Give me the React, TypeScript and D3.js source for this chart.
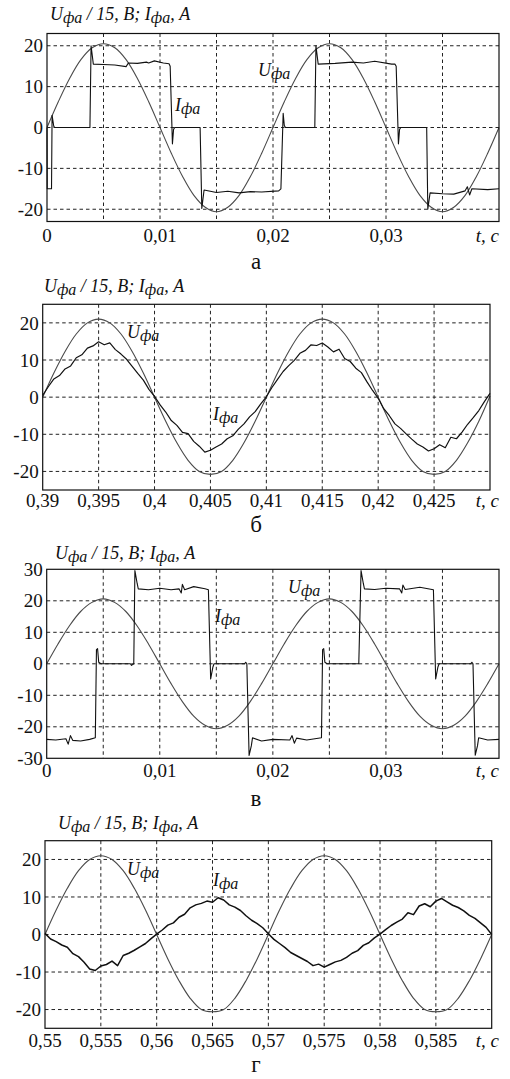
import React from 'react';
import * as d3 from 'd3';

// --- data ---
// phase voltage / 15, sampled every 1 ms
const uA = [0, 6.3, 12.0, 16.6, 19.5, 20.5, 19.5, 16.6, 12.0, 6.3, 0, -6.3, -12.0, -16.6, -19.5, -20.6, -19.5, -16.6, -12.0, -6.3, 0, 6.3, 12.0, 16.6, 19.5, 20.5, 19.5, 16.6, 12.0, 6.3, 0, -6.3, -12.0, -16.6, -19.5, -20.6, -19.5, -16.6, -12.0, -6.3, 0];
const uB = [0, 6.5, 12.3, 17.0, 20.0, 21.0, 20.0, 17.0, 12.3, 6.5, 0, -6.5, -12.3, -17.0, -20.0, -20.8, -20.0, -17.0, -12.3, -6.5, 0, 6.5, 12.3, 17.0, 20.0, 21.0, 20.0, 17.0, 12.3, 6.5, 0, -6.5, -12.3, -17.0, -20.0, -20.8, -20.0, -17.0, -12.3, -6.5, 0.3];
const uV = [0, 6.3, 12.0, 16.6, 19.5, 20.6, 19.5, 16.6, 12.0, 6.3, 0, -6.3, -12.0, -16.6, -19.5, -20.6, -19.5, -16.6, -12.0, -6.3, 0, 6.3, 12.0, 16.6, 19.5, 20.6, 19.5, 16.6, 12.0, 6.3, 0, -6.3, -12.0, -16.6, -19.5, -20.6, -19.5, -16.6, -12.0, -6.3, 0];
const uG = [0, 6.5, 12.3, 17.0, 20.0, 21.0, 20.0, 17.0, 12.3, 6.5, 0, -6.5, -12.3, -17.0, -20.0, -20.6, -20.0, -17.0, -12.3, -6.5, 0, 6.5, 12.3, 17.0, 20.0, 21.0, 20.0, 17.0, 12.3, 6.5, 0, -6.5, -12.3, -17.0, -20.0, -20.6, -20.0, -17.0, -12.3, -6.5, 0];

// phase current, panel а: [t, I]
const iA: [number, number][] = [
  [0, 0], [0.00002, -15], [0.0004, -15], [0.00045, 3], [0.0006, 0.3], [0.0007, 0], [0.0038, 0], [0.0039, 20], [0.0041, 15.5],
  [0.005, 15.4], [0.006, 15.3], [0.007, 14.9], [0.0072, 15.8], [0.008, 15.7], [0.0088, 16.0], [0.009, 15.8], [0.0095, 16.3],
  [0.0103, 15.8], [0.0108, 15.6], [0.0109, 15], [0.0111, -4], [0.0112, -0.5], [0.0113, 0], [0.01355, 0], [0.0137, -19.8],
  [0.0139, -15.3], [0.015, -15.9], [0.016, -15.6], [0.017, -16.0], [0.018, -15.7], [0.019, -15.8], [0.0205, -15.5],
  [0.0207, -15], [0.0209, 3.5], [0.021, 0.5], [0.0211, 0], [0.0237, 0], [0.0238, 20], [0.024, 15.5], [0.0255, 15.7],
  [0.027, 16.0], [0.028, 15.8], [0.029, 16.2], [0.0305, 15.5], [0.0308, 15.5], [0.0309, 15], [0.0311, -4], [0.0312, -0.5],
  [0.0313, 0], [0.0336, 0], [0.0337, -20], [0.0339, -16], [0.035, -16.2], [0.036, -16.3], [0.037, -15.5], [0.0372, -14.5],
  [0.0374, -16.5], [0.0376, -15], [0.039, -15.2], [0.04, -15]
];

// phase current, panel б, every 0.5 ms from 0.39 s
const iB = [0.5, 2.8, 4.9, 5.8, 7.6, 8.4, 10.6, 11.4, 13.2, 13.8, 14.9, 14.1, 14.6, 12.8, 11.6, 10.2, 8.3, 6.4, 4.6, 2.1,
  0.2, -2.1, -4.0, -6.3, -7.6, -9.5, -9.8, -11.9, -13.2, -14.8, -14.3, -13.4, -12.6, -11.2, -10.4, -8.6, -7.2, -5.3, -3.9, -1.8,
  0.1, 2.6, 4.8, 6.9, 8.5, 9.9, 11.8, 12.6, 14.1, 13.9, 14.6, 13.5, 12.2, 12.9, 10.4, 9.6, 7.8, 6.6, 4.1, 1.8,
  -0.3, -3.1, -5.0, -7.2, -8.4, -9.9, -11.3, -12.6, -13.4, -14.5, -13.9, -12.8, -13.6, -10.8, -11.2, -9.4, -7.3, -5.5, -3.6, -1.2, 1.0];

// phase current, panel в: [t, I]
const iV: [number, number][] = [
  [0, -24], [0.0008, -24.2], [0.0017, -23.8], [0.0019, -25.5], [0.0021, -22.8], [0.0023, -24.3], [0.003, -24.5], [0.0038, -24],
  [0.0043, -23.5], [0.0044, 4.5], [0.0045, 4.8], [0.0046, 0.5], [0.0048, 0], [0.0074, 0], [0.0075, -0.5], [0.0077, 0],
  [0.0078, 29.6], [0.008, 25.5], [0.0081, 23.8], [0.009, 23.5], [0.01, 24], [0.011, 23.5], [0.0117, 23.8], [0.0119, 22.5],
  [0.012, 25.2], [0.0122, 23.5], [0.013, 24.5], [0.014, 23.8], [0.0143, 23.5], [0.0145, -4.8], [0.0147, -1], [0.0148, 0],
  [0.0175, 0], [0.0176, 0.5], [0.0177, 0], [0.0179, -29.1], [0.0181, -26], [0.0182, -23.5], [0.019, -24.5], [0.02, -24],
  [0.0215, -24.2], [0.0217, -22.8], [0.0219, -25.2], [0.0221, -23.6], [0.023, -24.2], [0.0243, -23.5], [0.0244, 4.5],
  [0.0245, 4.8], [0.0246, 0.5], [0.0248, 0], [0.0275, 0], [0.0276, 0], [0.0278, 29.6], [0.028, 25.5], [0.0281, 23.8],
  [0.029, 23.6], [0.03, 24], [0.0312, 23.8], [0.0314, 22.5], [0.0315, 25], [0.0317, 23.6], [0.033, 24.3], [0.0342, 23.5],
  [0.0344, -4.8], [0.0346, -1], [0.0347, 0], [0.0375, 0], [0.0376, 0.5], [0.0377, 0], [0.0379, -29], [0.0381, -26],
  [0.0382, -23.5], [0.039, -24.2], [0.04, -24]
];

// phase current, panel г, every 0.5 ms from 0.55 s
const iG = [0.3, -1.2, -1.9, -2.8, -3.4, -5.1, -5.9, -7.4, -9.2, -9.6, -8.4, -8.0, -7.1, -8.3, -5.6, -5.0, -4.2, -3.3, -2.4, -1.1,
  0.1, 1.2, 2.5, 3.1, 4.6, 5.4, 7.1, 7.9, 8.3, 8.9, 8.6, 9.8, 9.2, 7.9, 7.3, 6.4, 5.0, 3.8, 2.9, 1.8,
  0.2, -1.3, -2.4, -3.5, -4.8, -5.6, -6.4, -7.2, -8.3, -7.9, -8.7, -8.0, -7.3, -6.9, -6.1, -5.0, -4.3, -2.9, -2.2, -0.9,
  0.1, 1.3, 2.4, 3.3, 4.1, 5.8, 5.3, 7.6, 8.2, 7.4, 8.9, 9.6, 8.7, 7.8, 7.2, 6.3, 5.1, 4.3, 3.1, 1.9, 0.0];

const xLabelsA = ['0', '0,01', '0,02', '0,03'];
const xLabelsB = ['0,39', '0,395', '0,4', '0,405', '0,41', '0,415', '0,42', '0,425'];
const xLabelsG = ['0,55', '0,555', '0,56', '0,565', '0,57', '0,575', '0,58', '0,585'];
const yTicks25 = [-20, -10, 0, 10, 20];
const yTicks30 = [-30, -20, -10, 0, 10, 20, 30];
const captions = ['а', 'б', 'в', 'г'];

const serif = "'Liberation Serif', 'Times New Roman', serif";

type PanelProps = {
  left: number; right: number; top: number; bottom: number;
  x0: number; yMax: number; yTicks: number[];
  xLabels: string[]; xLabelStep: number; xLabelDy: number;
  u: number[]; cur: [number, number][]; curWidth: number;
  title: [number, number]; uLab: [number, number]; iLab: [number, number];
  caption: string; capY: number;
};

// subscript "фа"
const Phi = () => (
  <tspan fontSize={16} dy={3}>фа</tspan>
);

const Panel = (p: PanelProps) => {
  const x = d3.scaleLinear().domain([p.x0, p.x0 + 0.04]).range([p.left, p.right]);
  const y = d3.scaleLinear().domain([-p.yMax, p.yMax]).range([p.bottom, p.top]);
  const uTimes = d3.range(41).map(i => p.x0 + i * 0.001);
  const uLine = d3.line<number>().x((_, i) => x(uTimes[i])).y(d => y(d)).curve(d3.curveCatmullRom);
  const iLine = d3.line<[number, number]>().x(d => x(d[0])).y(d => y(d[1]));
  const gridX = d3.range(1, 8).map(i => p.x0 + i * 0.005);
  const gridY = p.yTicks.filter(v => Math.abs(v) < p.yMax);
  return (
    <g fontFamily={serif} fill="#111">
      {gridX.map((v, i) => (
        <line key={'gx' + i} x1={x(v)} x2={x(v)} y1={p.top} y2={p.bottom} stroke="#222" strokeDasharray="3.5,3" strokeWidth={1} />
      ))}
      {gridY.map((v, i) => (
        <line key={'gy' + i} x1={p.left} x2={p.right} y1={y(v)} y2={y(v)} stroke="#222" strokeDasharray="3.5,3" strokeWidth={1} />
      ))}
      <path d={uLine(p.u) || ''} fill="none" stroke="#4a4a4a" strokeWidth={1.1} />
      <path d={iLine(p.cur) || ''} fill="none" stroke="#111" strokeWidth={p.curWidth} strokeLinejoin="round" />
      <rect x={p.left} y={p.top} width={p.right - p.left} height={p.bottom - p.top} fill="none" stroke="#111" strokeWidth={1.2} />
      {p.yTicks.map(v => (
        <text key={'yl' + v} x={p.left - 4} y={y(v)} dy="0.35em" textAnchor="end" fontSize={19}>{v}</text>
      ))}
      {p.xLabels.map((s, i) => (
        <text key={'xl' + i} x={x(p.x0 + i * p.xLabelStep)} y={p.bottom + p.xLabelDy} textAnchor="middle" fontSize={19}>{s}</text>
      ))}
      <text x={499} y={p.bottom + p.xLabelDy} textAnchor="end" fontSize={19} fontStyle="italic">t, c</text>
      <text x={p.title[0]} y={p.title[1]} fontSize={18} fontStyle="italic">
        U<Phi /><tspan dy={-3}> / 15, B; I</tspan><Phi /><tspan dy={-3}>, A</tspan>
      </text>
      <text x={p.uLab[0]} y={p.uLab[1]} fontSize={18} fontStyle="italic">U<Phi /></text>
      <text x={p.iLab[0]} y={p.iLab[1]} fontSize={18} fontStyle="italic">I<Phi /></text>
      <text x={256} y={p.capY} textAnchor="middle" fontSize={23}>{p.caption}</text>
    </g>
  );
};

const App = () => {
  const tB: [number, number][] = iB.map((v, i) => [0.39 + i * 0.0005, v]);
  const tG: [number, number][] = iG.map((v, i) => [0.55 + i * 0.0005, v]);
  return (
    <svg width={510} height={1079} style={{ position: 'absolute', left: 0, top: 0, background: '#fff' }}>
      <Panel left={47} right={499} top={33.5} bottom={221.5} x0={0} yMax={23} yTicks={yTicks25}
        xLabels={xLabelsA} xLabelStep={0.01} xLabelDy={20} u={uA} cur={iA} curWidth={1.1}
        title={[50, 20]} uLab={[258, 76]} iLab={[175, 111]} caption={captions[0]} capY={269} />
      <Panel left={42.7} right={490} top={304.3} bottom={490} x0={0.39} yMax={25} yTicks={yTicks25}
        xLabels={xLabelsB} xLabelStep={0.005} xLabelDy={17} u={uB} cur={tB} curWidth={1.2}
        title={[44, 292]} uLab={[127, 338]} iLab={[213, 420]} caption={captions[1]} capY={532} />
      <Panel left={46.7} right={499} top={569.3} bottom={758.3} x0={0} yMax={30} yTicks={yTicks30}
        xLabels={xLabelsA} xLabelStep={0.01} xLabelDy={18.5} u={uV} cur={iV} curWidth={1.1}
        title={[55, 559]} uLab={[288, 593]} iLab={[215, 622]} caption={captions[2]} capY={806} />
      <Panel left={45} right={491.7} top={840.7} bottom={1028.3} x0={0.55} yMax={25} yTicks={yTicks25}
        xLabels={xLabelsG} xLabelStep={0.005} xLabelDy={18.5} u={uG} cur={tG} curWidth={1.5}
        title={[58, 829]} uLab={[127, 875]} iLab={[213, 886]} caption={captions[3]} capY={1072} />
    </svg>
  );
};

export default App;
